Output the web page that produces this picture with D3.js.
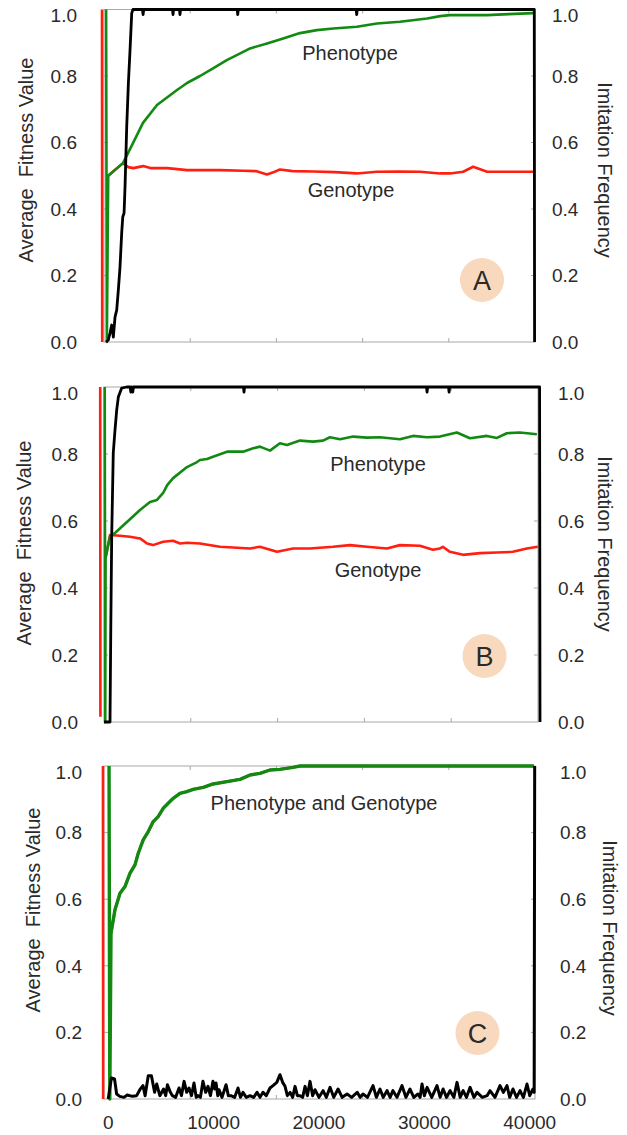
<!DOCTYPE html>
<html><head><meta charset="utf-8">
<script src="https://cdn.jsdelivr.net/npm/d3@7"></script>
<style>
body{margin:0;background:#fff}
svg{display:block}
text{font-family:"Liberation Sans","Helvetica Neue",Arial,sans-serif;fill:#2a2a2a}
</style>
</head><body>
<svg id="chart" width="627" height="1135"></svg>
<script>
// ---------- data ----------
const xTickValues = [0, 10000, 20000, 30000, 40000];
const xTickLabels = ["0", "10000", "20000", "30000", "40000"];
const frameTickValues = [10000, 20000, 30000, 40000];
const yTickValues = [0, 0.2, 0.4, 0.6, 0.8, 1.0];
const yTickLabels = ["0.0", "0.2", "0.4", "0.6", "0.8", "1.0"];
const panelLetters = ["A", "B", "C"];
const leftTitle = "Average  Fitness Value";
const rightTitle = "Imitation Frequency";
const annotationA = ["Phenotype", "Genotype"];
const annotationB = ["Phenotype", "Genotype"];
const annotationC = ["Phenotype and Genotype"];

// [generation, value]; null value = gap
const aPhenotype = [[-200,1.0],[-130,0.0],[0,0.5],[1400,0.538],[2350,0.598],[3300,0.659],[4630,0.713],[6530,0.758],[7480,0.779],[8710,0.800],[9950,0.823],[11250,0.848],[12200,0.863],[13460,0.883],[15070,0.898],[16600,0.913],[18200,0.929],[19800,0.938],[21350,0.943],[23600,0.948],[25500,0.958],[27690,0.963],[30260,0.973],[31500,0.980],[32440,0.983],[35950,0.983],[38000,0.986],[40330,0.989]];
const aGenotype = [[-590,1.0],[-570,0.0],[-400,null],[0,0.5],[1400,0.538],[1900,0.526],[2370,0.523],[3320,0.529],[3990,0.523],[5600,0.523],[7480,0.517],[10610,0.517],[12800,0.515],[14000,0.514],[15070,0.504],[15800,0.512],[16300,0.519],[17500,0.514],[19500,0.513],[21500,0.511],[23580,0.507],[25500,0.512],[27500,0.513],[29590,0.512],[31500,0.507],[32440,0.507],[33680,0.512],[34630,0.527],[35960,0.512],[37860,0.512],[40330,0.512]];
const aImitation = [[-210,0],[10,0.006],[170,0.027],[330,0.051],[485,0.015],[645,0.075],[805,0.096],[960,0.156],[1120,0.226],[1280,0.328],[1380,0.376],[1505,0.388],[1595,0.466],[1755,0.647],[1915,0.779],[2070,0.878],[2230,0.989],[2350,1.0],[3250,1.0],[3310,0.985],[3370,1.0],[6100,1.0],[6150,0.985],[6200,1.0],[6760,1.0],[6810,0.985],[6860,1.0],[12240,1.0],[12290,0.985],[12340,1.0],[23530,1.0],[23580,0.985],[23630,1.0],[40430,1.0],[40460,0.0]];

const bPhenotype = [[-330,1.0],[-280,0.0],[-250,0.49],[170,0.552],[640,0.564],[1780,0.597],[3020,0.633],[3970,0.657],[4630,0.663],[5220,0.684],[5600,0.707],[6160,0.728],[7480,0.761],[8430,0.776],[8710,0.782],[9380,0.785],[9950,0.792],[11280,0.807],[12810,0.807],[13760,0.817],[14400,0.822],[15360,0.810],[16300,0.832],[16970,0.827],[18200,0.840],[19440,0.837],[20390,0.840],[21050,0.850],[22000,0.844],[23250,0.852],[24560,0.849],[25790,0.850],[27690,0.844],[28930,0.854],[30260,0.850],[31490,0.852],[33100,0.864],[34340,0.847],[35950,0.854],[36900,0.848],[37840,0.862],[39080,0.864],[40690,0.859]];
const bGenotype = [[-760,1.0],[-740,0.016],[-500,null],[-250,0.49],[170,0.558],[1120,0.556],[2070,0.553],[3020,0.548],[3690,0.533],[4250,0.528],[5220,0.538],[6160,0.541],[6830,0.533],[7480,0.535],[8710,0.533],[10610,0.523],[13460,0.518],[14400,0.523],[16020,0.508],[17550,0.518],[19150,0.518],[21350,0.523],[22950,0.528],[24560,0.523],[26460,0.518],[27690,0.528],[29590,0.526],[30830,0.514],[31490,0.518],[31770,0.523],[32440,0.508],[33680,0.499],[35290,0.504],[36900,0.506],[38410,0.508],[39740,0.518],[40780,0.523]];
const bImitation = [[-400,0],[170,0],[250,0.30],[330,0.553],[480,0.803],[645,0.872],[805,0.931],[960,0.970],[1280,0.997],[1755,1.0],[2070,1.0],[2150,0.985],[2250,1.0],[2330,0.985],[2400,1.0],[12840,1.0],[12890,0.985],[12940,1.0],[30220,1.0],[30270,0.985],[30320,1.0],[32310,1.0],[32360,0.985],[32410,1.0],[40950,1.0],[40990,0.0]];

const cPhenotype = [[80,1.0],[150,0.0],[265,0.498],[640,0.568],[1120,0.618],[1590,0.638],[2070,0.678],[2540,0.703],[2850,0.738],[3320,0.778],[3800,0.803],[4270,0.833],[4740,0.848],[5220,0.873],[5690,0.888],[6170,0.903],[6810,0.918],[7450,0.923],[8070,0.930],[9030,0.936],[9950,0.946],[11270,0.953],[12510,0.960],[13460,0.973],[14410,0.978],[15350,0.988],[16300,0.990],[17540,0.996],[18200,1.0],[40400,1.0]];
// genotype coincides with phenotype in run C
const cGenotype = [[-500,1.0],[-480,0.0],[-300,null]].concat(cPhenotype.slice(2));
const cImitation = [[0,0.0],[300,0.063],[600,0.06],[800,0.015],[1100,0.008],[1500,0.005],[1800,0.012],[2300,0.008],[2700,0.01],[3000,0.028],[3300,0.04],[3500,0.01],[3800,0.07],[4100,0.07],[4400,0.02],[4600,0.045],[4900,0.01],[5250,0.03],[5450,0.01],[5620,0.043],[5900,0.02],[6090,0.01],[6400,0.005],[6720,0.033],[6950,0.01],[7200,0.053],[7450,0.02],[7670,0.033],[7900,0.01],[8140,0.048],[8350,0.005],[8520,0.01],[8750,0.005],[8990,0.053],[9250,0.02],[9470,0.038],[9700,0.01],[9940,0.053],[10100,0.03],[10230,0.048],[10400,0.01],[10510,0.028],[10800,0.005],[11180,0.043],[11400,0.01],[11650,0.01],[12000,0.005],[12320,0.033],[12550,0.005],[12790,0.02],[13100,0.005],[13460,0.01],[13800,0.005],[14120,0.02],[14400,0.005],[14690,0.02],[15000,0.01],[15350,0.033],[15640,0.04],[16000,0.05],[16300,0.073],[16550,0.05],[16780,0.038],[17000,0.01],[17260,0.02],[17500,0.005],[17730,0.038],[17950,0.01],[18200,0.01],[18450,0.005],[18680,0.038],[18900,0.01],[19150,0.053],[19400,0.01],[19620,0.028],[20000,0.005],[20390,0.025],[20700,0.005],[21050,0.035],[21400,0.005],[21810,0.03],[22200,0.005],[22670,0.015],[23100,0.005],[23630,0.02],[23900,0.005],[24180,0.015],[24600,0.005],[25130,0.04],[25450,0.005],[25790,0.03],[26100,0.005],[26460,0.025],[26750,0.005],[27020,0.025],[27400,0.005],[27880,0.04],[28250,0.005],[28640,0.03],[29000,0.005],[29390,0.015],[29600,0.005],[29780,0.045],[30000,0.01],[30260,0.035],[30700,0.005],[31200,0.04],[31500,0.005],[31780,0.03],[32100,0.005],[32440,0.025],[32800,0.005],[33100,0.05],[33400,0.005],[33680,0.025],[34000,0.005],[34340,0.035],[34700,0.005],[35000,0.02],[35500,0.005],[35950,0.01],[36230,0.025],[36700,0.005],[37180,0.04],[37500,0.02],[37840,0.04],[38100,0.005],[38410,0.03],[38750,0.005],[39080,0.025],[39400,0.005],[39740,0.045],[40000,0.01],[40310,0.03],[40420,0.02],[40470,1.0]];

// ---------- layout ----------
const panels = [
  {letter: panelLetters[0], top: 9.5, bottom: 342, left: 104, right: 535, xEnd: 40500,
   pheno: aPhenotype, geno: aGenotype, imit: aImitation, greenW: 2.6,
   labelRight: 77, titleX: 26, titleY: 160, rLabelX: 552, rTitleX: 605, rTitleY: 170,
   badge: [482, 280], notes: [[annotationA[0], 350, 60], [annotationA[1], 351, 196.5]]},
  {letter: panelLetters[1], top: 387, bottom: 722, left: 104, right: 538, xEnd: 40800,
   pheno: bPhenotype, geno: bGenotype, imit: bImitation, greenW: 2.6,
   labelRight: 78, titleX: 24, titleY: 543, rLabelX: 558, rTitleX: 605, rTitleY: 544,
   badge: [484.5, 656], notes: [[annotationB[0], 378, 470.5], [annotationB[1], 378, 576.5]]},
  {letter: panelLetters[2], top: 766, bottom: 1099, left: 104, right: 535, xEnd: 40500,
   pheno: cPhenotype, geno: cGenotype, imit: cImitation, greenW: 3.4,
   labelRight: 82, titleX: 33, titleY: 910, rLabelX: 560, rTitleX: 610, rTitleY: 928,
   badge: [477.5, 1033], notes: [[annotationC[0], 324, 810]]}
];

const svg = d3.select("#chart");
const GREEN = "#128a12", RED = "#ff1e0f", BLACK = "#000", FRAME = "#a8a8a8";

panels.forEach((p, i) => {
  const g = svg.append("g");
  const x = d3.scaleLinear().domain([-400, p.xEnd]).range([p.left, p.right]);
  const xf = d3.scaleLinear().domain([0, 50000]).range([p.left, p.right]);
  const y = d3.scaleLinear().domain([0, 1]).range([p.bottom, p.top]);

  // frame
  g.append("rect").attr("x", p.left).attr("y", p.top)
    .attr("width", p.right - p.left).attr("height", p.bottom - p.top)
    .attr("fill", "none").attr("stroke", FRAME).attr("stroke-width", 1);

  // inner ticks
  const inner = yTickValues.filter(v => v > 0 && v < 1);
  g.selectAll(".ylt").data(inner).join("line")
    .attr("x1", p.left).attr("x2", p.left + 4).attr("y1", d => y(d)).attr("y2", d => y(d))
    .attr("stroke", FRAME);
  g.selectAll(".yrt").data(inner).join("line")
    .attr("x1", p.right - 4).attr("x2", p.right).attr("y1", d => y(d)).attr("y2", d => y(d))
    .attr("stroke", FRAME);
  frameTickValues.forEach(v => {
    g.append("line").attr("x1", xf(v)).attr("x2", xf(v)).attr("y1", p.top).attr("y2", p.top + 4).attr("stroke", FRAME);
    g.append("line").attr("x1", xf(v)).attr("x2", xf(v)).attr("y1", p.bottom - 4).attr("y2", p.bottom).attr("stroke", FRAME);
  });

  // tick labels
  const off = v => (v === 1 ? 6 : 0);
  g.selectAll(".yl").data(yTickValues).join("text")
    .attr("x", p.labelRight).attr("y", d => y(d) + off(d)).attr("dy", "0.36em")
    .attr("text-anchor", "end").style("font-size", "19px")
    .text((d, k) => yTickLabels[k]);
  g.selectAll(".yr").data(yTickValues).join("text")
    .attr("x", p.rLabelX).attr("y", d => y(d) + off(d)).attr("dy", "0.36em")
    .attr("text-anchor", "start").style("font-size", "19px")
    .text((d, k) => yTickLabels[k]);

  // axis titles
  g.append("text").attr("transform", `translate(${p.titleX},${p.titleY}) rotate(-90)`)
    .attr("text-anchor", "middle").attr("dy", "0.36em").style("font-size", "20px")
    .style("white-space", "pre").text(leftTitle);
  g.append("text").attr("transform", `translate(${p.rTitleX},${p.rTitleY}) rotate(90)`)
    .attr("text-anchor", "middle").attr("dy", "0.36em").style("font-size", "20px")
    .text(rightTitle);

  // badge
  g.append("circle").attr("cx", p.badge[0]).attr("cy", p.badge[1]).attr("r", 22).attr("fill", "#f9d9bd");
  g.append("text").attr("x", p.badge[0]).attr("y", p.badge[1]).attr("dy", "0.36em")
    .attr("text-anchor", "middle").style("font-size", "27px").text(p.letter);

  // lines
  const line = d3.line().defined(d => d[1] !== null).x(d => x(d[0])).y(d => y(d[1]));
  g.append("path").datum(p.geno).attr("d", line).attr("fill", "none")
    .attr("stroke", RED).attr("stroke-width", 2.6).attr("stroke-linejoin", "round");
  g.append("path").datum(p.pheno).attr("d", line).attr("fill", "none")
    .attr("stroke", GREEN).attr("stroke-width", p.greenW).attr("stroke-linejoin", "round");
  g.append("path").datum(p.imit).attr("d", line).attr("fill", "none")
    .attr("stroke", BLACK).attr("stroke-width", i === 2 ? 3 : 2.8).attr("stroke-linejoin", "round");

  // annotations
  p.notes.forEach(n => {
    g.append("text").attr("x", n[1]).attr("y", n[2]).attr("text-anchor", "middle")
      .style("font-size", "20px").text(n[0]);
  });

  // x tick labels (bottom panel only)
  if (i === panels.length - 1) {
    g.selectAll(".xl").data(xTickValues).join("text")
      .attr("x", d => x(d)).attr("y", 1129).attr("text-anchor", "middle")
      .style("font-size", "19px").text((d, k) => xTickLabels[k]);
  }
});
</script>
</body></html>
